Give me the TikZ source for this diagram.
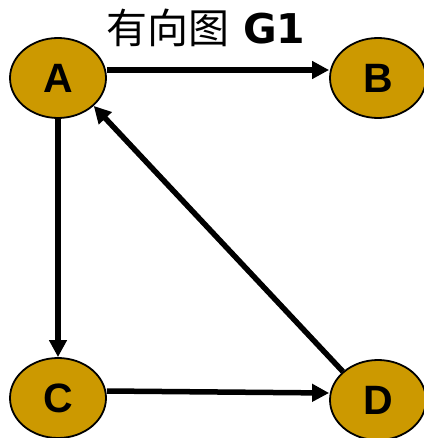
\documentclass[tikz,border=0pt]{standalone}
\usepackage{fontspec}
\setmainfont{Liberation Sans}
\newfontfamily\cjk{Noto Sans CJK SC}
\newfontfamily\titlefont{DejaVu Sans}
\usetikzlibrary{shapes.geometric,arrows.meta}
\definecolor{gold}{RGB}{204,153,0}
\begin{document}
\begin{tikzpicture}[x=1pt,y=-1pt,
  vnode/.style={ellipse,draw=black,line width=1.8pt,fill=gold,minimum width=96pt,minimum height=80pt,inner sep=0pt,font=\fontsize{41}{43}\selectfont\bfseries},
  edge/.style={line width=5.5pt,-{Triangle[length=17pt,width=17pt]}}]
\useasboundingbox (0,0) rectangle (423,438);
\node[vnode] (A) at (58,78) {A};
\node[vnode] (B) at (378,78) {B};
\node[vnode] (C) at (58,398) {C};
\node[vnode] (D) at (378,400) {D};
\node[anchor=base west,inner sep=0pt] (T) at (106,44) {{\cjk\fontsize{41}{43}\selectfont 有向图}\hspace{14pt}{\titlefont\fontsize{41}{43}\selectfont\bfseries G1}};
\draw[edge] ([yshift=8pt]A.east) -- ([yshift=8pt]B.west);
\draw[edge] ([yshift=7pt]C.east) -- ([yshift=7pt]D.west);
\draw[edge] (A.south) -- (C.north);
\draw[edge] (D.141) -- (A.-38);
\end{tikzpicture}
\end{document}
